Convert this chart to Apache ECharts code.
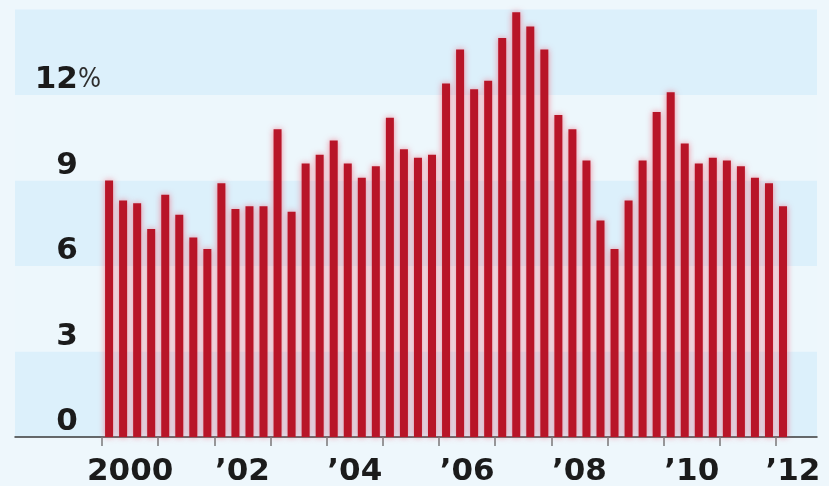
<!DOCTYPE html>
<html>
<head>
<meta charset="utf-8">
<style>
  html, body { margin: 0; padding: 0; background: #eef7fc; }
  #chart { width: 829px; height: 486px; }
</style>
<script src="https://cdn.jsdelivr.net/npm/echarts@6/dist/echarts.min.js"></script>
</head>
<body>
<div id="chart"></div>
<script>
// Quarterly rate, 2000 Q1 – 2012 Q1 (percent)
const quarters = [
  '2000Q1','2000Q2','2000Q3','2000Q4',
  '2001Q1','2001Q2','2001Q3','2001Q4',
  '2002Q1','2002Q2','2002Q3','2002Q4',
  '2003Q1','2003Q2','2003Q3','2003Q4',
  '2004Q1','2004Q2','2004Q3','2004Q4',
  '2005Q1','2005Q2','2005Q3','2005Q4',
  '2006Q1','2006Q2','2006Q3','2006Q4',
  '2007Q1','2007Q2','2007Q3','2007Q4',
  '2008Q1','2008Q2','2008Q3','2008Q4',
  '2009Q1','2009Q2','2009Q3','2009Q4',
  '2010Q1','2010Q2','2010Q3','2010Q4',
  '2011Q1','2011Q2','2011Q3','2011Q4',
  '2012Q1'
];
const rates = [
  9.0, 8.3, 8.2, 7.3,
  8.5, 7.8, 7.0, 6.6,
  8.9, 8.0, 8.1, 8.1,
  10.8, 7.9, 9.6, 9.9,
  10.4, 9.6, 9.1, 9.5,
  11.2, 10.1, 9.8, 9.9,
  12.4, 13.6, 12.2, 12.5,
  14.0, 14.9, 14.4, 13.6,
  11.3, 10.8, 9.7, 7.6,
  6.6, 8.3, 9.7, 11.4,
  12.1, 10.3, 9.6, 9.8,
  9.7, 9.5, 9.1, 8.9,
  8.1
];
const tickYears = [2000, 2001, 2002, 2003, 2004, 2005, 2006, 2007, 2008, 2009, 2010, 2011, 2012];
const labelYears = [2000, 2002, 2004, 2006, 2008, 2010, 2012];
const labelTexts = ['2000', '\u201902', '\u201904', '\u201906', '\u201908', '\u201910', '\u201912'];
const yTicks = [0, 3, 6, 9, 12];

const X_MIN = 1998.45, X_MAX = 2012.73;

// quarter string -> mid-quarter position on the year scale
function quarterPos(q) {
  const y = parseInt(q.slice(0, 4), 10);
  const n = parseInt(q.slice(5), 10);
  return y + (n - 1) / 4 + 0.125;
}

// year labels sit mid-year; the last one is pulled in to stay on the canvas
const labelPositions = labelYears.map(y => Math.min(y + 0.5, X_MAX - 0.43));

const font = 'DejaVu Sans';
const narrow = '"DejaVu Sans Condensed", "Liberation Sans Narrow", sans-serif';
const chart = echarts.init(document.getElementById('chart'), null, { renderer: 'canvas' });

chart.setOption({
  backgroundColor: '#eef7fc',
  animation: false,
  grid: { left: 15, right: 12, top: 9.5, bottom: 49, outerBoundsMode: 'none', containLabel: false },
  xAxis: {
    type: 'value',
    min: X_MIN,
    max: X_MAX,
    splitLine: { show: false },
    axisLine: { show: true, onZero: false, lineStyle: { color: '#3a3a3a', width: 1.5 } },
    axisTick: {
      show: true,
      customValues: tickYears,
      length: 9,
      lineStyle: { color: '#7a7a7a', width: 1.5 }
    },
    axisLabel: {
      customValues: labelPositions,
      margin: 19,
      fontFamily: font,
      fontWeight: 'bold',
      fontSize: 31,
      color: '#1b1b1b',
      formatter: function (v) {
        const i = labelPositions.findIndex(p => Math.abs(p - v) < 1e-6);
        return i >= 0 ? labelTexts[i] : '';
      }
    }
  },
  yAxis: {
    type: 'value',
    min: 0,
    max: 15,
    interval: 3,
    axisLine: { show: false },
    axisTick: { show: false },
    splitLine: { show: false },
    splitArea: {
      show: true,
      areaStyle: { color: ['#dcf0fb', '#edf7fc'] }
    },
    axisLabel: {
      inside: true,
      align: 'right',
      verticalAlign: 'bottom',
      margin: 86,
      formatter: function (v) {
        if (yTicks.indexOf(v) < 0) return '';
        return v === 12 ? '{n|' + v + '}{p|%}' : '{n|' + v + '}{h|%}';
      },
      rich: {
        n: { fontFamily: font, fontWeight: 'bold', fontSize: 31, color: '#1b1b1b', lineHeight: 30 },
        p: { fontFamily: narrow, fontSize: 27, color: '#2e2e2e', lineHeight: 30 },
        h: { fontFamily: narrow, fontSize: 27, color: 'rgba(0,0,0,0)', lineHeight: 30 }
      }
    }
  },
  series: [{
    type: 'bar',
    barWidth: 8,
    data: quarters.map((q, i) => [quarterPos(q), rates[i]]),
    itemStyle: {
      color: '#b81528',
      shadowBlur: 6,
      shadowColor: 'rgba(240, 100, 122, 0.75)'
    }
  }]
});
</script>
</body>
</html>
